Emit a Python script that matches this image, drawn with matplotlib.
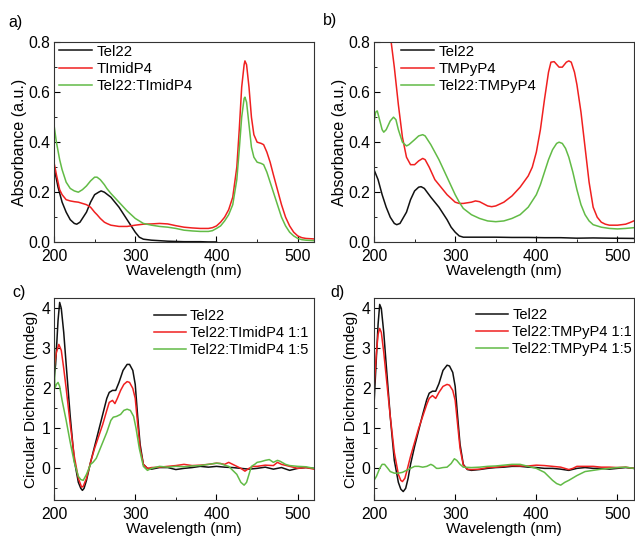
import matplotlib
matplotlib.use("Agg")
import matplotlib.pyplot as plt
from matplotlib.ticker import MultipleLocator

plt.rcParams['font.family'] = ['Liberation Sans', 'DejaVu Sans']
plt.rcParams['font.size'] = 10

BLACK = '#111111'
RED = '#f02020'
GREEN = '#62bb46'

# ---- panel a: UV-vis, TImidP4 ----
a_tel_wl = [200, 205, 210, 215, 220, 225, 228, 232, 240, 245, 250, 255, 258, 262, 270, 280, 290, 300,
            305, 310, 320, 330, 340, 350, 360, 370, 380, 390, 400]
a_tel = [0.30, 0.22, 0.16, 0.12, 0.09, 0.075, 0.072, 0.08, 0.12, 0.16, 0.19, 0.20, 0.205, 0.20, 0.18,
         0.14, 0.09, 0.04, 0.02, 0.012, 0.008, 0.006, 0.004, 0.003, 0.002, 0.002, 0.002, 0.001, 0.001]

a_wl = [200, 203, 207, 210, 215, 220, 225, 230, 235, 240, 245, 250, 253, 257, 262, 265, 270, 280, 290,
        300, 310, 320, 330, 340, 350, 360, 370, 380, 390, 395, 400, 405, 410, 415, 420, 425, 428, 431,
        434, 435, 437, 440, 443, 446, 450, 455, 458, 462, 466, 470, 475, 480, 485, 490, 495, 500, 505,
        510, 520]
a_por = [0.32, 0.27, 0.21, 0.19, 0.17, 0.165, 0.162, 0.16, 0.155, 0.15, 0.14, 0.12, 0.11, 0.095, 0.08,
         0.075, 0.068, 0.063, 0.063, 0.068, 0.072, 0.073, 0.075, 0.073, 0.066, 0.06, 0.057, 0.055, 0.055,
         0.058, 0.065, 0.08, 0.10, 0.13, 0.18, 0.30, 0.45, 0.62, 0.71, 0.725, 0.71, 0.62, 0.50, 0.43,
         0.40, 0.395, 0.39, 0.36, 0.32, 0.27, 0.21, 0.15, 0.10, 0.065, 0.04, 0.025, 0.018, 0.015, 0.013]
a_mix = [0.47, 0.40, 0.33, 0.29, 0.24, 0.215, 0.205, 0.20, 0.21, 0.225, 0.245, 0.26, 0.26, 0.25, 0.23,
         0.215, 0.195, 0.16, 0.125, 0.095, 0.075, 0.068, 0.063, 0.06, 0.055, 0.048, 0.045, 0.043, 0.043,
         0.046, 0.055, 0.065, 0.085, 0.11, 0.15, 0.25, 0.37, 0.50, 0.575, 0.58, 0.56, 0.47, 0.38, 0.34,
         0.32, 0.315, 0.31, 0.28, 0.24, 0.20, 0.15, 0.10, 0.065, 0.04, 0.025, 0.015, 0.01, 0.008, 0.006]

# ---- panel b: UV-vis, TMPyP4 ----
b_tel_wl = [200, 205, 210, 215, 220, 225, 228, 232, 240, 245, 250, 255, 258, 262, 270, 280, 290, 295,
            300, 305, 310, 330, 350, 370, 390, 410, 430, 450, 470, 490, 520]
b_tel = [0.29, 0.25, 0.19, 0.14, 0.10, 0.075, 0.07, 0.075, 0.12, 0.17, 0.205, 0.22, 0.222, 0.215, 0.18,
         0.14, 0.09, 0.06, 0.04, 0.025, 0.02, 0.02, 0.02, 0.019, 0.019, 0.018, 0.018, 0.016, 0.017,
         0.016, 0.015]

b_por_wl = [200, 210, 215, 220, 225, 230, 235, 240, 245, 250, 255, 260, 263, 268, 275, 280, 290, 300,
            305, 310, 320, 325, 330, 340, 345, 350, 360, 370, 380, 390, 395, 400, 405, 410, 415, 418,
            422, 428, 432, 437, 440, 443, 447, 450, 455, 460, 465, 470, 475, 480, 485, 490, 500, 510,
            515, 520]
b_por = [1.30, 1.05, 0.95, 0.83, 0.70, 0.55, 0.42, 0.34, 0.31, 0.31, 0.325, 0.335, 0.33, 0.30, 0.25,
         0.23, 0.19, 0.16, 0.155, 0.155, 0.16, 0.165, 0.162, 0.145, 0.142, 0.145, 0.16, 0.185, 0.22,
         0.265, 0.30, 0.36, 0.45, 0.57, 0.68, 0.72, 0.722, 0.70, 0.70, 0.72, 0.725, 0.72, 0.68, 0.63,
         0.52, 0.38, 0.24, 0.14, 0.10, 0.08, 0.072, 0.068, 0.068, 0.072, 0.078, 0.085]

b_mix_wl = [200, 202, 204, 206, 210, 212, 215, 220, 224, 227, 230, 235, 240, 243, 250, 255, 260, 263,
            270, 280, 290, 300, 305, 310, 320, 330, 340, 350, 360, 370, 380, 390, 400, 405, 410, 415,
            420, 425, 428, 432, 436, 440, 445, 450, 455, 460, 465, 470, 480, 490, 500, 510, 520]
b_mix = [0.48, 0.52, 0.525, 0.50, 0.45, 0.44, 0.45, 0.485, 0.50, 0.49, 0.45, 0.40, 0.385, 0.39, 0.41,
         0.425, 0.43, 0.425, 0.39, 0.33, 0.26, 0.19, 0.16, 0.135, 0.11, 0.095, 0.085, 0.082, 0.085,
         0.095, 0.11, 0.14, 0.19, 0.23, 0.28, 0.33, 0.37, 0.395, 0.40, 0.395, 0.375, 0.34, 0.28, 0.21,
         0.15, 0.11, 0.085, 0.07, 0.06, 0.055, 0.053, 0.055, 0.058]

# ---- panel c: CD, TImidP4 ----
c_tel_wl = [200, 202, 205, 207, 209, 212, 215, 220, 225, 230, 233, 235, 237, 240, 245, 250, 255, 260,
            265, 268, 272, 276, 280, 285, 290, 293, 297, 300, 303, 306, 310, 315, 320, 330, 340, 350,
            360, 370, 380, 390, 400, 410, 420, 430, 440, 450, 460, 470, 480, 490, 500, 510, 520]
c_tel = [2.2, 2.6, 3.7, 4.15, 4.0, 3.4, 2.6, 1.3, 0.2, -0.35, -0.5, -0.55, -0.5, -0.3, 0.15, 0.55,
         0.95, 1.35, 1.75, 1.9, 1.95, 1.95, 2.15, 2.45, 2.6, 2.6, 2.45, 2.1, 1.3, 0.6, 0.1, 0.0, -0.02,
         0.02, 0.02, -0.03, 0.0, 0.02, 0.05, 0.03, 0.05, 0.03, 0.02, 0.0, -0.02, 0.0, 0.03, -0.02,
         0.02, -0.05, 0.0, 0.02, 0.0]

c_r1_wl = [200, 203, 206, 209, 212, 215, 220, 225, 230, 234, 236, 240, 245, 250, 255, 260, 265, 268,
           272, 275, 278, 282, 286, 290, 293, 297, 300, 303, 306, 310, 315, 320, 330, 340, 350, 360,
           370, 380, 390, 400, 405, 410, 415, 420, 425, 430, 435, 440, 445, 450, 460, 470, 475, 480,
           490, 500, 510, 520]
c_r1 = [2.5, 2.9, 3.1, 2.95, 2.5, 2.0, 1.1, 0.3, -0.25, -0.47, -0.45, -0.25, 0.15, 0.5, 0.8, 1.1,
        1.45, 1.65, 1.7, 1.62, 1.75, 1.95, 2.1, 2.17, 2.15, 2.0, 1.75, 1.1, 0.5, 0.1, 0.0, 0.02, 0.03,
        0.05, 0.07, 0.1, 0.07, 0.08, 0.1, 0.13, 0.12, 0.1, 0.15, 0.1, 0.05, 0.0, -0.07, 0.0, 0.05,
        0.05, 0.08, 0.07, 0.15, 0.1, 0.05, 0.0, 0.02, -0.02]

c_r5_wl = [200, 201, 203, 205, 207, 210, 215, 220, 225, 230, 233, 236, 240, 245, 248, 252, 256, 260,
           265, 270, 273, 277, 282, 286, 290, 294, 298, 301, 305, 310, 315, 320, 330, 340, 350, 360,
           370, 380, 390, 400, 405, 410, 415, 420, 425, 430, 434, 437, 440, 443, 447, 450, 455, 460,
           465, 470, 475, 478, 485, 490, 500, 510, 520]
c_r5 = [4.2, 2.0, 2.1, 2.15, 2.05, 1.7, 1.2, 0.65, 0.15, -0.2, -0.28, -0.3, -0.15, 0.1, 0.15, 0.25,
        0.45, 0.65, 0.9, 1.2, 1.28, 1.3, 1.35, 1.45, 1.48, 1.45, 1.3, 1.0, 0.5, 0.05, -0.05, 0.0, 0.05,
        0.03, 0.05, 0.04, 0.06, 0.07, 0.1, 0.13, 0.12, 0.08, 0.05, -0.05, -0.15, -0.35, -0.42, -0.35,
        -0.15, 0.05, 0.1, 0.15, 0.17, 0.2, 0.22, 0.15, 0.2, 0.18, 0.1, 0.07, 0.05, 0.04, 0.0]

# ---- panel d: CD, TMPyP4 ----
d_tel_wl = [200, 203, 205, 207, 209, 212, 215, 220, 225, 230, 233, 236, 239, 242, 245, 250, 255, 260,
            265, 268, 272, 276, 280, 285, 290, 293, 297, 300, 303, 306, 310, 315, 320, 330, 340, 350,
            360, 370, 380, 390, 400, 410, 420, 430, 440, 450, 460, 470, 480, 490, 500, 510, 520]
d_tel = [1.6, 2.8, 3.6, 4.1, 4.0, 3.4, 2.6, 1.3, 0.2, -0.35, -0.52, -0.58, -0.5, -0.25, 0.1, 0.55,
         0.95, 1.35, 1.72, 1.88, 1.93, 1.93, 2.12, 2.45, 2.58, 2.56, 2.4, 2.05, 1.3, 0.6, 0.1, -0.03,
         -0.05, -0.03, 0.0, 0.02, 0.03, 0.05, 0.05, 0.03, 0.02, 0.0, 0.0, -0.02, -0.05, 0.0, 0.02,
         0.0, 0.0, -0.02, 0.0, 0.02, 0.0]

d_r1_wl = [200, 203, 205, 207, 209, 212, 215, 220, 225, 230, 233, 235, 238, 240, 245, 250, 255, 260,
           265, 268, 272, 276, 280, 285, 290, 293, 297, 300, 303, 306, 310, 315, 320, 330, 340, 350,
           360, 370, 380, 390, 400, 410, 420, 430, 440, 445, 450, 460, 470, 480, 490, 500, 510, 520]
d_r1 = [2.0, 2.9, 3.35, 3.5, 3.4, 2.9, 2.3, 1.3, 0.4, -0.15, -0.3, -0.33, -0.25, -0.1, 0.3, 0.65,
        1.0, 1.3, 1.6, 1.75, 1.82, 1.75, 1.9, 2.05, 2.1, 2.08, 1.95, 1.7, 1.1, 0.5, 0.08, -0.02, -0.03,
        -0.02, 0.02, 0.03, 0.05, 0.07, 0.06, 0.06, 0.08, 0.07, 0.05, 0.03, -0.03, 0.0, 0.05, 0.05,
        0.05, 0.03, 0.03, 0.02, 0.03, 0.0]

d_r5_wl = [200, 203, 207, 210, 213, 217, 220, 225, 230, 235, 240, 245, 250, 255, 260, 265, 270, 273,
           277, 280, 285, 290, 295, 299, 302, 306, 310, 320, 330, 340, 350, 360, 370, 380, 390, 400,
           410, 420, 425, 430, 435, 440, 450, 460, 470, 480, 490, 500, 510, 520]
d_r5 = [-0.3, -0.2, 0.0, 0.1, 0.1, 0.0, -0.08, -0.12, -0.12, -0.1, -0.05, 0.0, 0.05, 0.05, 0.03,
        0.05, 0.1, 0.07, 0.0, 0.0, 0.02, 0.03, 0.12, 0.24, 0.2, 0.1, 0.03, 0.02, 0.03, 0.05, 0.06,
        0.08, 0.1, 0.1, 0.05, 0.0, -0.1, -0.3, -0.38, -0.42, -0.35, -0.3, -0.18, -0.08, -0.05, -0.02,
        0.0, 0.02, 0.03, 0.0]

fig = plt.figure(figsize=(6.35, 5.37), dpi=100)
ax_a = fig.add_axes([0.085, 0.549, 0.4095, 0.3725])
ax_b = fig.add_axes([0.589, 0.549, 0.409, 0.3725])
ax_c = fig.add_axes([0.085, 0.069, 0.4095, 0.376])
ax_d = fig.add_axes([0.589, 0.069, 0.409, 0.376])

lw = 1.1
ax_a.plot(a_tel_wl, a_tel, color=BLACK, lw=lw, label='Tel22')
ax_a.plot(a_wl, a_por, color=RED, lw=lw, label='TImidP4')
ax_a.plot(a_wl, a_mix, color=GREEN, lw=lw, label='Tel22:TImidP4')

ax_b.plot(b_tel_wl, b_tel, color=BLACK, lw=lw, label='Tel22')
ax_b.plot(b_por_wl, b_por, color=RED, lw=lw, label='TMPyP4')
ax_b.plot(b_mix_wl, b_mix, color=GREEN, lw=lw, label='Tel22:TMPyP4')

ax_c.plot(c_tel_wl, c_tel, color=BLACK, lw=lw, label='Tel22')
ax_c.plot(c_r1_wl, c_r1, color=RED, lw=lw, label='Tel22:TImidP4 1:1')
ax_c.plot(c_r5_wl, c_r5, color=GREEN, lw=lw, label='Tel22:TImidP4 1:5')

ax_d.plot(d_tel_wl, d_tel, color=BLACK, lw=lw, label='Tel22')
ax_d.plot(d_r1_wl, d_r1, color=RED, lw=lw, label='Tel22:TMPyP4 1:1')
ax_d.plot(d_r5_wl, d_r5, color=GREEN, lw=lw, label='Tel22:TMPyP4 1:5')

for ax in (ax_a, ax_b):
    ax.set_ylim(0, 0.8)
    ax.yaxis.set_major_locator(MultipleLocator(0.2))
    ax.yaxis.set_minor_locator(MultipleLocator(0.1))
    ax.set_yticklabels([f'{v:.1f}' for v in ax.get_yticks()])
    ax.set_ylabel('Absorbance (a.u.)', fontsize=11.5, labelpad=1)

for ax in (ax_c, ax_d):
    ax.set_ylim(-0.79, 4.26)
    ax.yaxis.set_major_locator(MultipleLocator(1))
    ax.yaxis.set_minor_locator(MultipleLocator(0.5))
    ax.set_ylabel('Circular Dichroism (mdeg)', fontsize=11, labelpad=2.5)

for ax in (ax_a, ax_b, ax_c, ax_d):
    ax.set_xlim(200, 520)
    ax.xaxis.set_major_locator(MultipleLocator(100))
    ax.xaxis.set_minor_locator(MultipleLocator(50))
    ax.set_xlabel('Wavelength (nm)', fontsize=11, labelpad=0)
    ax.tick_params(which='both', direction='in', labelsize=11.3)
    ax.tick_params(which='major', length=4)
    ax.tick_params(axis='x', which='major', pad=5)
    ax.tick_params(axis='y', which='major', pad=2.5)
    ax.tick_params(which='minor', length=2.5)
    for s in ax.spines.values():
        s.set_linewidth(0.8)
        s.set_color('#333333')

leg_kw = dict(frameon=False, handlelength=2.2, handletextpad=0.3,
              labelspacing=0.22, borderaxespad=0.0, borderpad=0.2)
ax_a.legend(loc='upper left', bbox_to_anchor=(0.008, 1.003), fontsize=10.8, **leg_kw)
ax_b.legend(loc='upper left', bbox_to_anchor=(0.093, 1.003), fontsize=10.8, **leg_kw)
ax_c.legend(loc='upper right', bbox_to_anchor=(0.99, 0.962), fontsize=10.5, **leg_kw)
ax_d.legend(loc='upper right', bbox_to_anchor=(1.005, 0.967), fontsize=10.5, **leg_kw)

fig.text(8 / 635, 1 - 22 / 537, 'a)', fontsize=11.5, va='center')
fig.text(323 / 635, 1 - 20 / 537, 'b)', fontsize=11.5, va='center')
fig.text(12 / 635, 1 - 292 / 537, 'c)', fontsize=11.5, va='center')
fig.text(330 / 635, 1 - 292 / 537, 'd)', fontsize=11.5, va='center')

fig.savefig('out.png', dpi=100)
